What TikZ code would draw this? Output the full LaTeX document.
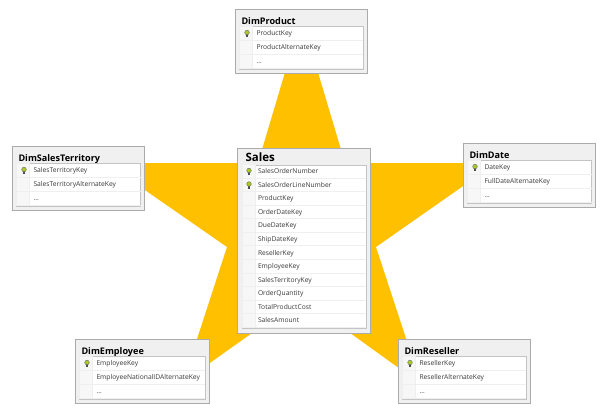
\documentclass[tikz,border=0pt]{standalone}
\usepackage{fontspec}
\setmainfont{Open Sans}
\definecolor{starfill}{HTML}{FFC000}
\definecolor{frameline}{HTML}{ABABAB}
\definecolor{framefill}{HTML}{F0F0F0}
\definecolor{listline}{HTML}{C4C4C4}
\definecolor{rowline}{HTML}{EFEFEF}
\definecolor{rowtext}{HTML}{3A3A3A}
\begin{document}
\begin{tikzpicture}[x=1pt, y=-1pt, inner sep=0pt, outer sep=0pt,
  tableframe/.style={draw=frameline, line width=0.9pt, fill=framefill, anchor=north west},
  listbox/.style={draw=listline, line width=0.9pt, fill=white, anchor=north west},
  gutter/.style={draw=rowline, line width=0.6pt, fill=framefill!55, anchor=west, minimum width=13pt},
  dimtitle/.style={anchor=west, text height=7.2pt, text depth=2pt, font=\bfseries\fontsize{9.1}{10}\selectfont},
  rowlabel/.style={anchor=west, text=rowtext, text height=5pt, text depth=1.5pt, font=\fontsize{6.7}{8}\selectfont},
  keyicon/.pic={
    \fill[black!70] (-0.8,0) rectangle (0.8,3.6);
    \filldraw[draw=black!60, fill=yellow!70!green!90!black, line width=0.4pt] (0,-1) circle (2.3);
  }]
  \useasboundingbox (0,0) rectangle (605,413);
  \fill[white] (0,0) rectangle (605,413);
  \fill[starfill] (301.5,17) -- (345,163) -- (496,163) -- (376,247) -- (421,384) -- (301.5,298)
    -- (183,382) -- (227,247) -- (106,163) -- (258,163) -- cycle;
  % dimension tables
  \foreach \name/\x/\y/\w/\keyrow/\altrow in {
    DimProduct/235/9/132/ProductKey/ProductAlternateKey,
    DimSalesTerritory/12/146/132.5/SalesTerritoryKey/SalesTerritoryAlternateKey,
    DimDate/463/143/132.5/DateKey/FullDateAlternateKey,
    DimEmployee/75/339/134/EmployeeKey/EmployeeNationalIDAlternateKey,
    DimReseller/398/339/132/ResellerKey/ResellerAlternateKey} {
    \node[tableframe, minimum width=\w pt, minimum height=64pt] (\name) at (\x,\y) {};
    \node[dimtitle] (\name-title) at (\x+6.5,\y+12.8) {\name};
    \node[listbox, minimum width=\w pt-8pt, minimum height=43pt] (\name-list) at (\x+4,\y+17) {};
    \foreach \n/\r in {1/24,2/38.3,3/52.6} {
      \node[gutter, minimum height=14.3pt] (\name-gutter\n) at (\x+4.5,\y+\r) {};
      \draw[rowline, line width=0.6pt] (\name-gutter\n.south east) -- (\name-gutter\n.south -| \name-list.east);
    }
    \pic at (\x+12,\y+24.5) {keyicon};
    \node[rowlabel] (\name-key) at (\x+21.5,\y+24.8) {\keyrow};
    \node[rowlabel] (\name-alt) at (\x+21.5,\y+38.8) {\altrow};
    \node[rowlabel] (\name-more) at (\x+21.5,\y+53) {\dots};
  }
  % fact table
  \node[tableframe, minimum width=133pt, minimum height=185pt] (Sales) at (237,148) {};
  \node[dimtitle, text height=8.6pt, text depth=2.4pt, font=\bfseries\fontsize{11.5}{13}\selectfont] (Sales-title) at (245.5,158.4) {Sales};
  \node[listbox, minimum width=124pt, minimum height=163pt] (Sales-list) at (242,165) {};
  \foreach \n/\label in {0/SalesOrderNumber,1/SalesOrderLineNumber,2/ProductKey,3/OrderDateKey,
    4/DueDateKey,5/ShipDateKey,6/ResellerKey,7/EmployeeKey,8/SalesTerritoryKey,
    9/OrderQuantity,10/TotalProductCost,11/SalesAmount} {
    \node[gutter, minimum height=13.55pt] (Sales-gutter\n) at (242.5,171.2+13.55*\n) {};
    \draw[rowline, line width=0.6pt] (Sales-gutter\n.south east) -- (Sales-gutter\n.south -| Sales-list.east);
    \node[rowlabel] (Sales-row\n) at (258,172+13.55*\n) {\label};
  }
  \pic at (249,171.5) {keyicon};
  \pic at (249,185) {keyicon};
\end{tikzpicture}
\end{document}
